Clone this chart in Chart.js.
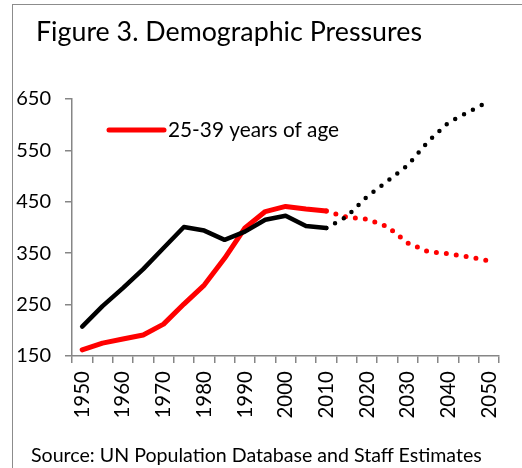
<!DOCTYPE html>
<html>
<head>
<meta charset="utf-8">
<script src="https://cdn.jsdelivr.net/npm/chart.js@4"></script>
<style>
  html, body { margin: 0; padding: 0; background: #fff; }
  #wrap { position: relative; width: 522px; height: 468px; overflow: hidden; font-family: Lato, "Open Sans", sans-serif; }
  #frame { position: absolute; left: 12px; top: 4px; right: -2px; bottom: -2px; border-left: 1px solid #8c8c8c; border-top: 1px solid #8c8c8c; }
  #title { position: absolute; left: 36px; top: 18px; font-size: 26.8px; color: #000; line-height: 1; white-space: nowrap; }
  #source { position: absolute; left: 31px; top: 445px; font-size: 19.6px; color: #000; line-height: 1; white-space: nowrap; }
  canvas { position: absolute; left: 0; top: 0; }
</style>
</head>
<body>
<div id="wrap">
  <div id="frame"></div>
  <canvas id="demoChart" width="522" height="468"></canvas>
  <div id="title">Figure 3. Demographic Pressures</div>
  <div id="source">Source: UN Population Database and Staff Estimates</div>
</div>
<script>
// years every 5, 1950..2050; projections start after 2010
const years = ["1950", "1955", "1960", "1965", "1970", "1975", "1980", "1985", "1990", "1995", "2000",
               "2005", "2010", "2015", "2020", "2025", "2030", "2035", "2040", "2045", "2050"];
const totalSeries = [207, 247, 282, 319, 360, 401, 394, 376, 392, 415, 423,
                     403, 399, 421, 460, 490, 521, 567, 604, 625, 646];
const youngSeries = [162, 175, 183, 191, 212, 251, 288, 340, 399, 431, 441,
                     436, 432, 420, 416, 402, 370, 353, 349, 343, 335];
const youngLabel = "25-39 years of age";
const projectionStart = 12; // index of 2010

const dotted = ctx => ctx.p0DataIndex >= projectionStart ? [0, 10] : undefined;

// legend drawn inside the plot, red series only
const innerLegend = {
    id: "innerLegend",
    afterDatasetsDraw(chart) {
        const { ctx, chartArea } = chart;
        const ds = chart.data.datasets[1];
        const x0 = chartArea.left + 37, y0 = chartArea.top + 31;
        ctx.save();
        ctx.strokeStyle = ds.borderColor;
        ctx.lineWidth = 5;
        ctx.lineCap = "round";
        ctx.beginPath();
        ctx.moveTo(x0, y0);
        ctx.lineTo(x0 + 55, y0);
        ctx.stroke();
        ctx.fillStyle = "#000";
        ctx.font = "20.8px Lato";
        ctx.textBaseline = "middle";
        ctx.fillText(ds.label, x0 + 59, y0);
        ctx.restore();
    }
};

const ctx = document.getElementById("demoChart").getContext("2d");
new Chart(ctx, {
    type: "line",
    data: {
        labels: years,
        datasets: [
            {
                label: "Total",
                data: totalSeries,
                borderColor: "#000000",
                borderWidth: 4.5,
                segment: { borderDash: dotted },
            },
            {
                label: youngLabel,
                data: youngSeries,
                borderColor: "#ff0000",
                borderWidth: 5,
                segment: { borderDash: dotted },
            }
        ]
    },
    options: {
        responsive: false,
        animation: false,
        layout: { padding: { left: 0, top: 99, right: 15, bottom: 0 } },
        elements: {
            point: { radius: 0 },
            line: { tension: 0, borderCapStyle: "round", borderJoinStyle: "round" }
        },
        scales: {
            x: {
                offset: true,
                afterFit: s => { s.height = 112; },
                border: { color: "#868686", width: 1.5 },
                grid: { offset: true, drawOnChartArea: false, tickLength: 7, color: "#868686", lineWidth: 1.5 },
                ticks: {
                    autoSkip: false,
                    maxRotation: 90,
                    minRotation: 90,
                    padding: 8,
                    color: "#000",
                    font: { family: "Lato", size: 20.5 },
                    callback: (v, i) => (i % 2 === 0 ? years[i] : "")
                }
            },
            y: {
                min: 150,
                max: 650,
                afterFit: s => { s.width = 72; },
                border: { color: "#868686", width: 1.5 },
                grid: { drawOnChartArea: false, tickLength: 7, color: "#868686", lineWidth: 1.5 },
                ticks: {
                    stepSize: 100,
                    padding: 14,
                    color: "#000",
                    font: { family: "Lato", size: 20 }
                }
            }
        },
        plugins: {
            legend: { display: false },
            title: { display: false },
            tooltip: { enabled: false }
        }
    },
    plugins: [innerLegend]
});
</script>
</body>
</html>
